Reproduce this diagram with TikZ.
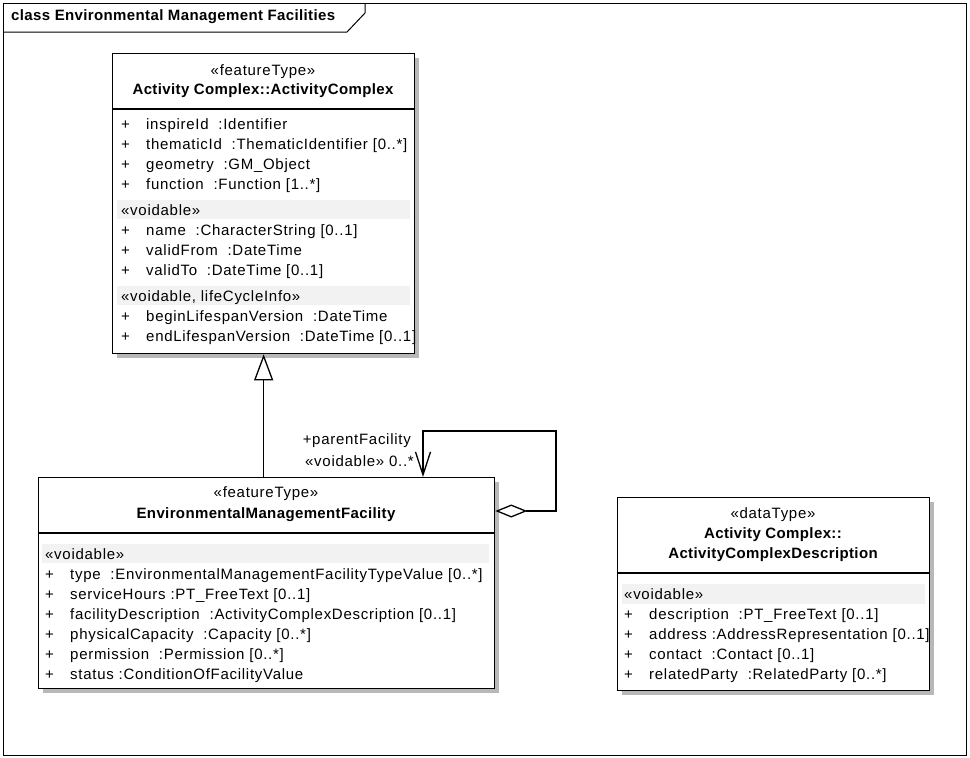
\documentclass[tikz,border=0pt]{standalone}
\usepackage{fontspec}
\setmainfont[LetterSpace=4.8, BoldFeatures={LetterSpace=2.5}]{Liberation Sans}
\usetikzlibrary{arrows.meta,positioning,shadows}

\newcommand{\attr}[1]{\strut\makebox[25pt][l]{+}#1}

\begin{document}
\begin{tikzpicture}[
    x=1pt, y=-1pt,
    every node/.style={font=\fontsize{15}{20}\selectfont, inner sep=0pt},
    umlbox/.style={rectangle, draw, line width=1.3pt, fill=white, anchor=north west,
        general shadow={fill=black!28, shadow xshift=4pt, shadow yshift=-4pt}},
    classname/.style={font=\fontsize{15}{20}\selectfont\bfseries},
    attrs/.style={anchor=north west, align=left},
    band/.style={fill=black!5},
    gen/.style={-{Triangle[open, length=26pt, width=19pt]}, line width=1.3pt},
    assoc/.style={{Diamond[open, length=32pt, width=13pt]}-{Straight Barb[length=23pt, width=15pt]}, line width=1.3pt}
]
    \useasboundingbox (0,0) rectangle (970,758);
    \draw[line width=1pt] (3,3) rectangle (966,755);
    \draw[line width=1pt] (3,32) -- (347,32) -- (365,13) -- (365,3);
    \node[classname, anchor=west] (frametitle) at (11,17) {class Environmental Management Facilities};

    \node[umlbox, minimum width=302pt, minimum height=300pt] (ac) at (112,53) {};
    \draw[line width=1.3pt] (112,109) -- (414,109);
    \node (acstereo) at (263,72) {«featureType»};
    \node[classname] (acname) at (263,91) {Activity Complex::ActivityComplex};
    \fill[band] (117,200) rectangle (410,219);
    \fill[band] (117,286) rectangle (410,305);
    \node[attrs] (acattr) at (121,115) {\attr{inspireId~ :Identifier}\\
        \attr{thematicId~ :ThematicIdentifier [0..*]}\\
        \attr{geometry~ :GM\_Object}\\
        \attr{function~ :Function [1..*]}};
    \node[attrs] (acvoid) at (121,201) {\strut«voidable»\\
        \attr{name~ :CharacterString [0..1]}\\
        \attr{validFrom~ :DateTime}\\
        \attr{validTo~ :DateTime [0..1]}};
    \node[attrs] (aclife) at (121,287) {\strut«voidable, lifeCycleInfo»\\
        \attr{beginLifespanVersion~ :DateTime}\\
        \attr{endLifespanVersion~ :DateTime [0..1]}};

    \node[umlbox, minimum width=456pt, minimum height=211pt] (emf) at (38,477) {};
    \draw[line width=1.3pt] (38,533) -- (494,533);
    \node (emfstereo) at (266,494) {«featureType»};
    \node[classname] (emfname) at (266,515) {EnvironmentalManagementFacility};
    \fill[band] (42,544) rectangle (489,563);
    \node[attrs] (emfvoid) at (45,545) {\strut«voidable»\\
        \attr{type~ :EnvironmentalManagementFacilityTypeValue [0..*]}\\
        \attr{serviceHours :PT\_FreeText [0..1]}\\
        \attr{facilityDescription~ :ActivityComplexDescription [0..1]}\\
        \attr{physicalCapacity~ :Capacity [0..*]}\\
        \attr{permission~ :Permission [0..*]}\\
        \attr{status :ConditionOfFacilityValue}};

    \node[umlbox, minimum width=312pt, minimum height=193pt] (acd) at (617,497) {};
    \draw[line width=1.3pt] (617,573) -- (929,573);
    \node (acdstereo) at (773,515) {«dataType»};
    \node[classname, align=center] (acdname) at (773,545) {Activity Complex::\\ActivityComplexDescription};
    \fill[band] (622,584) rectangle (925,604);
    \node[attrs] (acdvoid) at (624,585) {\strut«voidable»\\
        \attr{description~ :PT\_FreeText [0..1]}\\
        \attr{address :AddressRepresentation [0..1]}\\
        \attr{contact~ :Contact [0..1]}\\
        \attr{relatedParty~ :RelatedParty [0..*]}};

    \draw[gen] (emf.north -| ac.south) -- (ac.south);

    \coordinate (loopa) at (556,511);
    \coordinate (loopb) at (556,431);
    \coordinate (loopc) at (423,431);
    \draw[assoc] (emf.east |- loopa) -- (loopa) -- (loopb) -- (loopc) -- (loopc |- emf.north);
    \node[anchor=east] (rolename) at (411,441) {+parentFacility};
    \node[anchor=east] (rolemult) at (414,461) {«voidable» 0..*};
\end{tikzpicture}
\end{document}
